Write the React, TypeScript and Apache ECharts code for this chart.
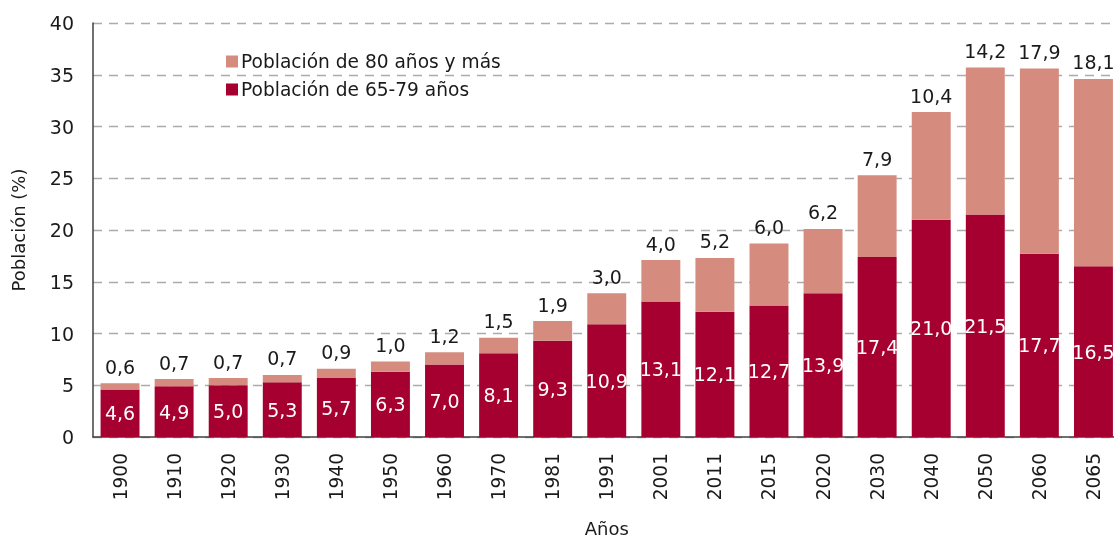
import React, { useEffect, useRef } from "react";
import * as echarts from "echarts";

const years = ["1900", "1910", "1920", "1930", "1940", "1950", "1960", "1970", "1981", "1991", "2001", "2011", "2015", "2020", "2030", "2040", "2050", "2060", "2065"];
const pop65to79 = [4.6, 4.9, 5.0, 5.3, 5.7, 6.3, 7.0, 8.1, 9.3, 10.9, 13.1, 12.1, 12.7, 13.9, 17.4, 21.0, 21.5, 17.7, 16.5];
const pop80plus = [0.6, 0.7, 0.7, 0.7, 0.9, 1.0, 1.2, 1.5, 1.9, 3.0, 4.0, 5.2, 6.0, 6.2, 7.9, 10.4, 14.2, 17.9, 18.1];
const seriesNames = ["Población de 65-79 años", "Población de 80 años y más"];
const yTitle = "Población (%)";
const xTitle = "Años";

const FONT = "'DejaVu Sans', Verdana, sans-serif";
const fmt = (v: number) => v.toFixed(1).replace(".", ",");

export default function App() {
  const ref = useRef<HTMLDivElement>(null);
  useEffect(() => {
    if (!ref.current) return;
    const chart = echarts.init(ref.current, null, { renderer: "svg" });
    chart.setOption({
      animation: false,
      textStyle: { fontFamily: FONT },
      grid: { left: 93, right: -6.5, top: 23, bottom: 100, containLabel: false, outerBoundsMode: "none" },
      legend: {
        orient: "vertical",
        left: 226,
        top: 52,
        padding: 0,
        itemWidth: 12,
        itemHeight: 12,
        itemGap: 9,
        icon: "rect",
        data: [seriesNames[1], seriesNames[0]],
        textStyle: { fontFamily: FONT, fontSize: 18.6, color: "#1a1a1a", lineHeight: 18, padding: [0, 0, 0, -2] },
      },
      xAxis: {
        type: "category",
        data: years,
        name: xTitle,
        nameLocation: "middle",
        nameGap: 82,
        nameTextStyle: { fontFamily: FONT, fontSize: 18, color: "#1a1a1a" },
        axisLine: { lineStyle: { color: "#404040", width: 1.5 } },
        axisTick: { show: false },
        axisLabel: { rotate: 90, margin: 16, fontFamily: FONT, fontSize: 18.6, color: "#1a1a1a", interval: 0 },
      },
      yAxis: {
        type: "value",
        min: 0,
        max: 40,
        interval: 5,
        name: yTitle,
        nameLocation: "middle",
        nameGap: 66,
        nameTextStyle: { fontFamily: FONT, fontSize: 18, color: "#1a1a1a" },
        axisLine: { show: true, lineStyle: { color: "#404040", width: 1.5 } },
        axisTick: { show: false },
        axisLabel: { margin: 19, fontFamily: FONT, fontSize: 19, color: "#1a1a1a" },
        splitLine: { lineStyle: { color: "#ababab", type: [9, 7], width: 1.3 } },
      },
      series: [
        {
          name: seriesNames[0],
          type: "bar",
          stack: "total",
          data: pop65to79,
          barCategoryGap: "28%",
          itemStyle: { color: "#A5002F" },
          label: {
            show: true,
            position: "inside",
            color: "#ffffff",
            fontFamily: FONT,
            fontSize: 19,
            formatter: (p: any) => fmt(p.value),
          },
        },
        {
          name: seriesNames[1],
          type: "bar",
          stack: "total",
          data: pop80plus,
          barCategoryGap: "28%",
          itemStyle: { color: "#D58B7E" },
          label: {
            show: true,
            position: "top",
            distance: 7,
            color: "#1a1a1a",
            fontFamily: FONT,
            fontSize: 19,
            formatter: (p: any) => fmt(p.value),
          },
        },
      ],
    });
    return () => chart.dispose();
  }, []);
  return <div ref={ref} style={{ position: "fixed", left: 0, top: 0, width: 1114, height: 537 }} />;
}
